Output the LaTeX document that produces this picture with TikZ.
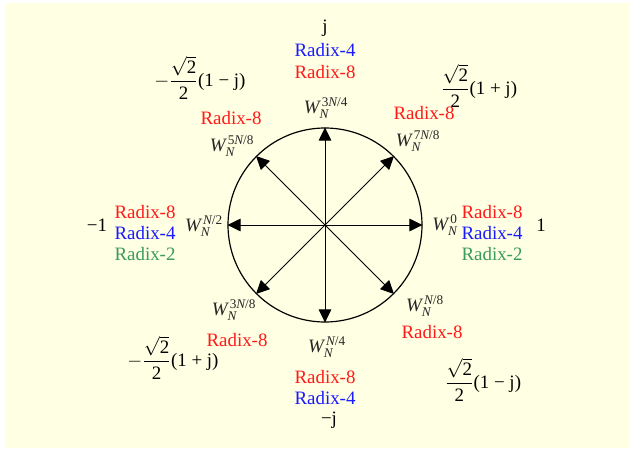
\documentclass[tikz,border=0pt]{standalone}
\usepackage{amsmath}
\usepackage{fontspec}
\setmainfont{Liberation Serif}
\usetikzlibrary{arrows.meta}
\definecolor{paper}{HTML}{FFFFE3}
\definecolor{rdxred}{HTML}{FF1A1A}
\definecolor{rdxblue}{HTML}{1A1AFF}
\definecolor{rdxgreen}{HTML}{3A9A60}
\newcommand{\twid}[1]{$\textit{W}_{\textit{N}}^{\,#1}$}
\newcommand{\hrt}{\dfrac{\sqrt{\text{2}}}{\text{2}}}
\begin{document}
\begin{tikzpicture}[
  x=0.75pt,
  y=-0.75pt,
  font=\fontsize{14.2}{16}\selectfont,
  rim/.style={draw, circle, line width=0.9pt, minimum size=145.5pt, inner sep=0pt},
  vec/.style={line width=0.75pt, -{Triangle[length=10pt, width=9.5pt]}},
  tw/.style={inner sep=1pt, text=black!85},
  radix/.style={inner sep=0pt},
  root/.style={inner sep=0pt}
]
\useasboundingbox (0,0) rectangle (633,450);
\fill[paper] (6,3) rectangle (630,448);

\coordinate (o) at (325,225);
\node[rim] (unit) at (o) {};
\foreach \a in {0,45,...,315} {
  \draw[vec] (o) -- (unit.\a);
}

\node[tw] (w0) at (445,225) {\twid{\text{0}}};
\node[tw] (w1) at (425,306) {\twid{\textit{N}\text{/8}}};
\node[tw] (w2) at (327,347) {\twid{\textit{N}\text{/4}}};
\node[tw] (w3) at (234,310) {\twid{\text{3}\textit{N}\text{/8}}};
\node[tw] (w4) at (204,226) {\twid{\textit{N}\text{/2}}};
\node[tw] (w5) at (232,146) {\twid{\text{5}\textit{N}\text{/8}}};
\node[tw] (w6) at (326,108) {\twid{\text{3}\textit{N}\text{/4}}};
\node[tw] (w7) at (418,141) {\twid{\text{7}\textit{N}\text{/8}}};

\foreach \r/\c [count=\i] in {8/rdxred,4/rdxblue,2/rdxgreen} {
  \node[radix, text=\c] (re\i) at (492,191+21*\i) {Radix-\r};
  \node[radix, text=\c] (rw\i) at (145,191+21*\i) {Radix-\r};
}
\node[radix, text=rdxblue] (rn4) at (325,50) {Radix-4};
\node[radix, text=rdxred] (rn8) at (325,72) {Radix-8};
\node[radix, text=rdxred] (rs8) at (325,377) {Radix-8};
\node[radix, text=rdxblue] (rs4) at (325,398) {Radix-4};
\node[radix, text=rdxred] (rne) at (424,113) {Radix-8};
\node[radix, text=rdxred] (rnw) at (231,118) {Radix-8};
\node[radix, text=rdxred] (rsw) at (237,340) {Radix-8};
\node[radix, text=rdxred] (rse) at (432,332) {Radix-8};

\node[root] (pone) at (541,225) {1};
\node[root] (mone) at (97,225) {−1};
\node[root] (pj) at (325,28) {j};
\node[root] (mj) at (329,420) {−j};
\node[root] (ne) at (479,86) {$\hrt$(1 + j)};
\node[root] (nw) at (200,78) {$-\hrt$(1 − j)};
\node[root] (sw) at (173,358) {$-\hrt$(1 + j)};
\node[root] (se) at (483,380) {$\hrt$(1 − j)};
\end{tikzpicture}
\end{document}
